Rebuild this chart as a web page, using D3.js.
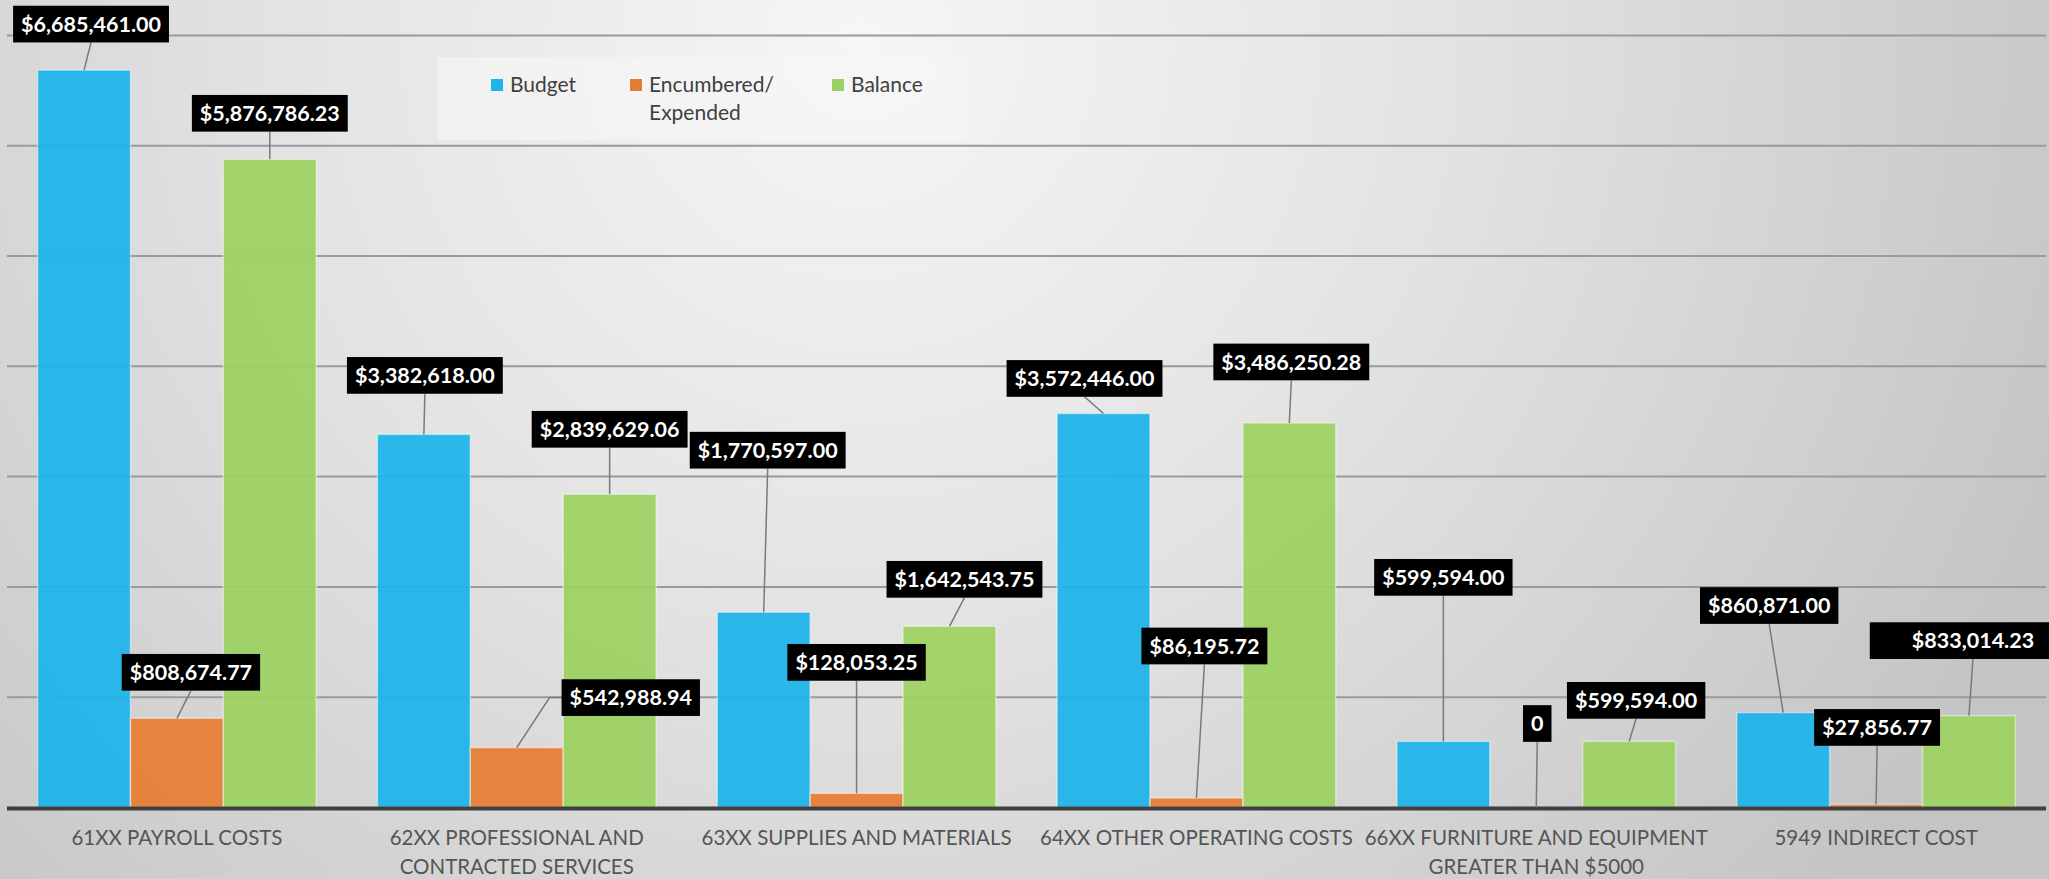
<!DOCTYPE html>
<html>
<head>
<meta charset="utf-8">
<script src="https://cdn.jsdelivr.net/npm/d3@7"></script>
<style>
  html, body { margin: 0; padding: 0; overflow: hidden; }
  svg { display: block; }
</style>
</head>
<body>
<div id="chart"></div>
<script>
// Chart data
const categories = [
    ["61XX PAYROLL COSTS"],
    ["62XX PROFESSIONAL AND", "CONTRACTED SERVICES"],
    ["63XX SUPPLIES AND MATERIALS"],
    ["64XX OTHER OPERATING COSTS"],
    ["66XX FURNITURE AND EQUIPMENT", "GREATER THAN $5000"],
    ["5949 INDIRECT COST"]
];
const seriesNames = ["Budget", "Encumbered/ Expended", "Balance"];
const budget = [6685461.00, 3382618.00, 1770597.00, 3572446.00, 599594.00, 860871.00];
const encumbered = [808674.77, 542988.94, 128053.25, 86195.72, 0, 27856.77];
const balance = [5876786.23, 2839629.06, 1642543.75, 3486250.28, 599594.00, 833014.23];
const yTicks = [1000000, 2000000, 3000000, 4000000, 5000000, 6000000, 7000000];

// Colours
const colors = ["#20b4ea", "#e77d34", "#9dd163"];

// Hand-placed label offsets (px from bar top), one row per series
const labelOffsets = [
    [[7, -46], [1, -59], [4, -162], [-19, -35], [0, -164], [-14, -107]],
    [[14, -46], [114, -50], [0, -131], [8, -152], [1, -84], [1, -77]],
    [[0, -46], [0, -65], [15, -47], [2, -61], [7, -41], [4, -75, 34]]
];

const width = 2049;
const height = 879;
const baseY = 807.5;

const svg = d3.select("#chart").append("svg")
    .attr("width", width)
    .attr("height", height);

// Background gradient
const defs = svg.append("defs");
const grad = defs.append("radialGradient")
    .attr("id", "bg")
    .attr("gradientUnits", "userSpaceOnUse")
    .attr("cx", 860).attr("cy", 40).attr("r", 1300);
grad.append("stop").attr("offset", "0%").attr("stop-color", "#f6f6f6");
grad.append("stop").attr("offset", "45%").attr("stop-color", "#e3e3e3");
grad.append("stop").attr("offset", "100%").attr("stop-color", "#c4c4c4");

svg.append("rect")
    .attr("width", width)
    .attr("height", height)
    .attr("fill", "url(#bg)");

// Scales
const x0 = d3.scaleBand()
    .domain(d3.range(categories.length))
    .range([7, 2046])
    .paddingInner(0.18)
    .paddingOuter(0.09);

const x1 = d3.scaleBand()
    .domain(d3.range(seriesNames.length))
    .range([0, x0.bandwidth()]);

const y = d3.scaleLinear()
    .domain([0, 7000000])
    .range([baseY, baseY - 7 * 110.3]);

// Gridlines
svg.append("g")
    .selectAll("line")
    .data(yTicks)
    .join("line")
    .attr("x1", 7)
    .attr("x2", 2046)
    .attr("y1", d => y(d))
    .attr("y2", d => y(d))
    .attr("stroke", "#9a9a9a")
    .attr("stroke-width", 2);

// Legend
const legend = svg.append("g");
legend.append("rect")
    .attr("x", 438).attr("y", 57)
    .attr("width", 530).attr("height", 83)
    .attr("fill", "#f6f6f6")
    .attr("opacity", 0.6);

const legendX = [491, 630, 832];
seriesNames.forEach((name, i) => {
    legend.append("rect")
        .attr("x", legendX[i]).attr("y", 79)
        .attr("width", 12).attr("height", 12)
        .attr("fill", colors[i]);
    const t = legend.append("text")
        .attr("x", legendX[i] + 19)
        .attr("y", 92)
        .attr("font-family", "Lato, 'Open Sans', sans-serif")
        .attr("font-size", 21)
        .attr("fill", "#404040");
    name.split(" ").forEach((part, j) => {
        t.append("tspan")
            .attr("x", legendX[i] + 19)
            .attr("dy", j === 0 ? 0 : 28)
            .text(part);
    });
});

// Bars
const allSeries = [budget, encumbered, balance];
const barData = [];
allSeries.forEach((values, s) => {
    values.forEach((v, g) => {
        barData.push({ s: s, g: g, value: v });
    });
});

svg.append("g")
    .selectAll("rect")
    .data(barData)
    .join("rect")
    .attr("x", d => x0(d.g) + x1(d.s))
    .attr("y", d => y(d.value))
    .attr("width", x1.bandwidth())
    .attr("height", d => baseY - y(d.value))
    .attr("fill", d => colors[d.s])
    .attr("fill-opacity", 0.94)
    .attr("stroke", "#ffffff")
    .attr("stroke-opacity", 0.45)
    .attr("stroke-width", 1.5);

// X axis line
svg.append("line")
    .attr("x1", 7).attr("x2", 2046)
    .attr("y1", baseY + 1).attr("y2", baseY + 1)
    .attr("stroke", "#3f3f3f")
    .attr("stroke-width", 4);

// Category labels
const catG = svg.append("g");
categories.forEach((lines, g) => {
    const t = catG.append("text")
        .attr("text-anchor", "middle")
        .attr("font-family", "Lato, 'Open Sans', sans-serif")
        .attr("font-size", 20.5)
        .attr("fill", "#555555")
        .attr("y", 845);
    lines.forEach((line, j) => {
        t.append("tspan")
            .attr("x", x0(g) + x0.bandwidth() / 2)
            .attr("dy", j === 0 ? 0 : 29)
            .text(line);
    });
});

// Data labels with leader lines
const fmt = d3.format("$,.2f");
const labelG = svg.append("g");
const leaderG = labelG.append("g");
const boxH = 36.7;

barData.forEach(d => {
    const off = labelOffsets[d.s][d.g];
    const ax = x0(d.g) + x1(d.s) + x1.bandwidth() / 2;
    const ay = y(d.value);
    const cx = ax + off[0];
    const cy = ay + off[1];
    const extra = off[2] || 0;

    const box = labelG.append("rect").attr("fill", "#000000");
    const text = labelG.append("text")
        .attr("x", cx)
        .attr("y", cy + 7.8)
        .attr("text-anchor", "middle")
        .attr("font-family", "Lato, 'Open Sans', sans-serif")
        .attr("font-weight", "bold")
        .attr("font-size", 21.5)
        .attr("fill", "#ffffff")
        .text(d.value === 0 ? "0" : fmt(d.value));

    const tw = text.node().getComputedTextLength();
    const bw = tw + 16 + extra * 2;
    const left = cx - bw / 2;
    const right = cx + bw / 2;
    box.attr("x", left)
        .attr("y", cy - boxH / 2)
        .attr("width", bw)
        .attr("height", boxH);

    // Leader: to bottom centre when under the box, else to the side
    let pts;
    if (ax >= left && ax <= right) {
        pts = [[ax, ay], [cx, cy + boxH / 2]];
    } else if (ax < left) {
        pts = [[ax, ay], [left - 12, cy], [left, cy]];
    } else {
        pts = [[ax, ay], [right + 12, cy], [right, cy]];
    }
    leaderG.append("path")
        .attr("d", d3.line()(pts))
        .attr("fill", "none")
        .attr("stroke", "#7a7a7a")
        .attr("stroke-width", 1.5);
});
</script>
</body>
</html>
